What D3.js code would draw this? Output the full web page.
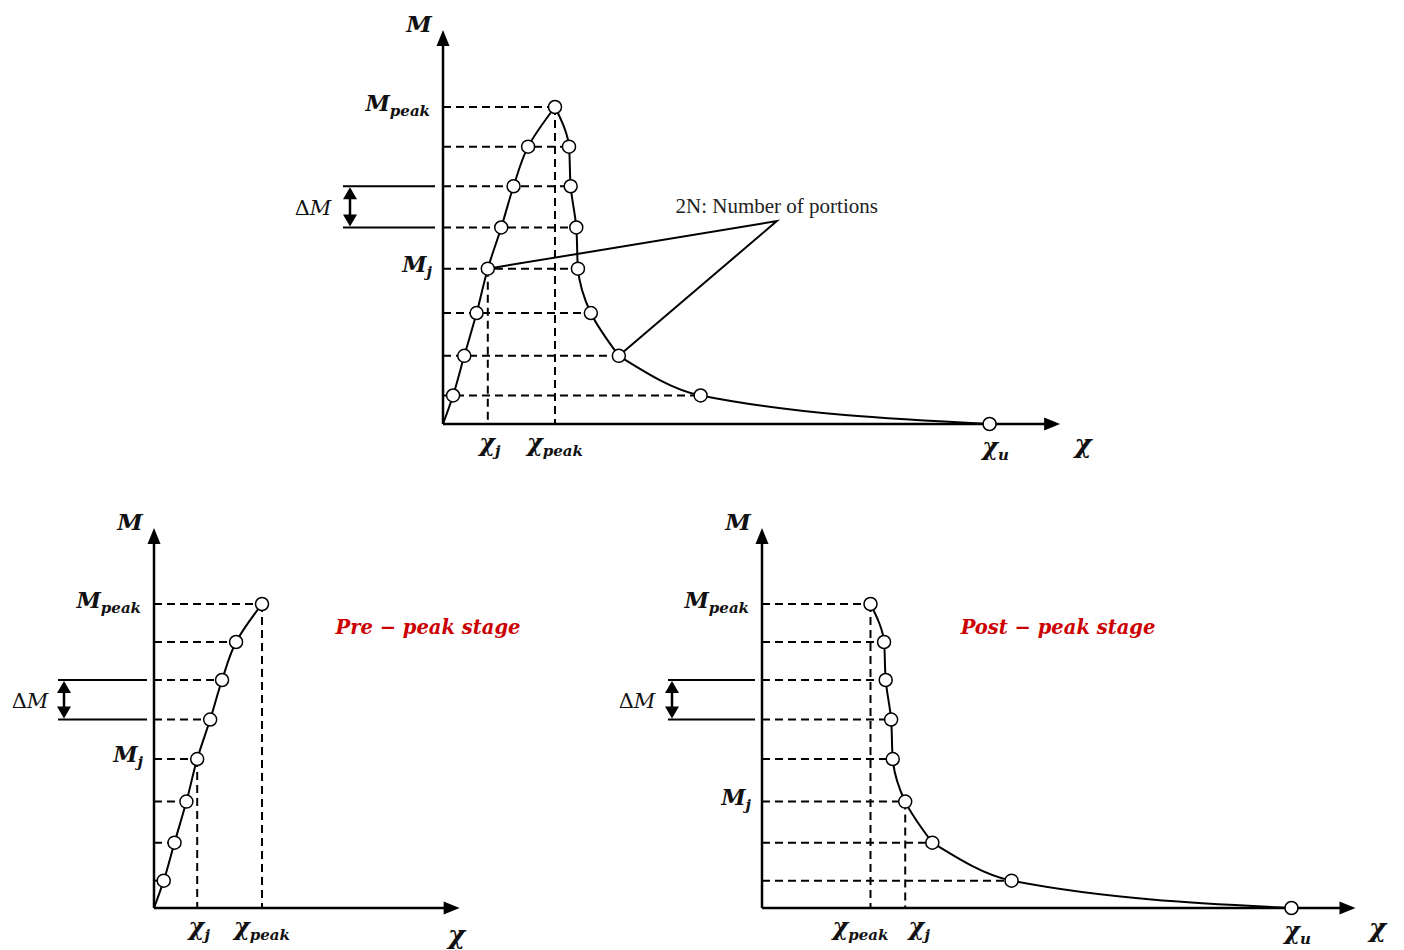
<!DOCTYPE html>
<html>
<head>
<meta charset="utf-8">
<script src="https://cdn.jsdelivr.net/npm/d3@7/dist/d3.min.js"></script>
<style>
  html, body { margin: 0; padding: 0; background: #fff; }
  svg { display: block; }
  .math { font-family: "DejaVu Serif", "Liberation Serif", serif; font-style: italic; font-weight: bold; fill: #111; }
  .note { font-family: "Liberation Serif", "DejaVu Serif", serif; fill: #222; }
  .stage { font-family: "DejaVu Serif", "Liberation Serif", serif; font-style: italic; font-weight: bold; fill: #cc0000; }
</style>
</head>
<body>
<svg id="chart" width="1404" height="950"></svg>
<script>
// Moment levels of the 2N portions, as a fraction of the peak moment
const momentLevels = [0.09, 0.215, 0.35, 0.49, 0.62, 0.75, 0.875, 1.0];
// Curvature on the ascending branch at each moment level (χ / χpeak)
const chiPre = [0.09, 0.19, 0.30, 0.40, 0.52, 0.63, 0.76, 1.0];
// Curvature on the descending branch at each moment level (χ / χpeak)
const chiPost = [2.30, 1.57, 1.32, 1.205, 1.19, 1.14, 1.125, 1.0];
// Ultimate curvature, where the moment has dropped to zero
const chiUltimate = 4.88;
// Apex of the "2N" call-out, in curvature / moment units
const noteApex = { chi: 2.98, m: 0.64 };

const svg = d3.select("#chart");

// Panel layout: origin in pixels, pixels per unit, axis extents
const panels = [
  { id: "full", ox: 443, oy: 424, kx: 112, ky: 317, xMax: 5.51, yMax: 1.243,
    pre: true, post: true, jLevel: 3, jBranch: "pre", dm: [4, 5],
    dmLine: [343, 435], dmArrowX: 350, dmLabelX: 313, chiDx: 23, chiDy: 29 },
  { id: "pre", ox: 154, oy: 908, kx: 108, ky: 304, xMax: 2.83, yMax: 1.25,
    pre: true, post: false, jLevel: 3, jBranch: "pre", dm: [4, 5],
    dmLine: [58, 147], dmArrowX: 64, dmLabelX: 30, chiDx: -3, chiDy: 36,
    stage: "Pre − peak stage", stageX: 428 },
  { id: "post", ox: 762, oy: 908, kx: 108.5, ky: 304, xMax: 5.47, yMax: 1.25,
    pre: false, post: true, jLevel: 2, jBranch: "post", dm: [4, 5],
    dmLine: [668, 755], dmArrowX: 672, dmLabelX: 637, chiDx: 22, chiDy: 29,
    stage: "Post − peak stage", stageX: 1058 }
];

function mathLabel(g, x, y, main, sub, opts = {}) {
  const size = opts.size || 22;
  const t = g.append("text").attr("class", "math")
    .attr("x", x).attr("y", y)
    .attr("text-anchor", opts.anchor || "middle")
    .style("font-size", size + "px");
  t.append("tspan").text(main);
  if (sub) {
    t.append("tspan").attr("dy", opts.subDy || 5)
      .style("font-size", (opts.subSize || 15) + "px").text(sub);
  }
  return t;
}

function triangle(g, tipX, tipY, dir, len, half) {
  let pts;
  if (dir === "up") pts = [[tipX, tipY], [tipX - half, tipY + len], [tipX + half, tipY + len]];
  else if (dir === "down") pts = [[tipX, tipY], [tipX - half, tipY - len], [tipX + half, tipY - len]];
  else pts = [[tipX, tipY], [tipX - len, tipY - half], [tipX - len, tipY + half]];
  g.append("path").attr("d", d3.line()(pts) + "Z").attr("fill", "#000");
}

panels.forEach(p => {
  const g = svg.append("g").attr("class", "panel-" + p.id);
  const x = d3.scaleLinear().domain([0, p.xMax]).range([p.ox, p.ox + p.kx * p.xMax]);
  const y = d3.scaleLinear().domain([0, p.yMax]).range([p.oy, p.oy - p.ky * p.yMax]);

  const prePts = momentLevels.map((m, i) => ({ chi: chiPre[i], m }));
  const postPts = momentLevels.map((m, i) => ({ chi: chiPost[i], m }));
  const peak = { chi: chiPre[7], m: momentLevels[7] };

  const dashStyle = sel => sel.attr("stroke", "#000").attr("stroke-width", 2)
    .attr("stroke-dasharray", "8,5").attr("fill", "none");

  // Horizontal guides at each moment level, out to the farthest point on that level
  momentLevels.forEach((m, i) => {
    const reach = p.post ? chiPost[i] : chiPre[i];
    g.append("line")
      .attr("x1", x(0)).attr("x2", x(reach))
      .attr("y1", y(m)).attr("y2", y(m))
      .call(dashStyle);
  });

  // Vertical guides at χj and χpeak
  const jPt = p.jBranch === "pre" ? prePts[p.jLevel] : postPts[p.jLevel];
  [jPt, peak].forEach(pt => {
    g.append("line")
      .attr("x1", x(pt.chi)).attr("x2", x(pt.chi))
      .attr("y1", y(pt.m)).attr("y2", y(0))
      .call(dashStyle);
  });

  // Axes with arrowheads
  g.append("line").attr("x1", x(0)).attr("x2", x(0))
    .attr("y1", y(0)).attr("y2", y(p.yMax) + 10)
    .attr("stroke", "#000").attr("stroke-width", 2.5);
  triangle(g, x(0), y(p.yMax), "up", 16, 6.5);
  g.append("line").attr("x1", x(0)).attr("x2", x(p.xMax) - 10)
    .attr("y1", y(0)).attr("y2", y(0))
    .attr("stroke", "#000").attr("stroke-width", 2.5);
  triangle(g, x(p.xMax), y(0), "right", 16, 6.5);

  // Moment–curvature curve: χ as a monotone function of M near the peak,
  // M as a monotone function of χ along the softening tail
  const curveY = d3.line().x(d => x(d.chi)).y(d => y(d.m)).curve(d3.curveMonotoneY);
  const curveX = d3.line().x(d => x(d.chi)).y(d => y(d.m)).curve(d3.curveMonotoneX);
  const stroke = sel => sel.attr("fill", "none").attr("stroke", "#000").attr("stroke-width", 2);
  if (p.pre) {
    const branch = [...prePts].reverse().concat([{ chi: 0, m: 0 }]);
    g.append("path").attr("d", curveY(branch)).call(stroke);
  }
  if (p.post) {
    const head = [...postPts].reverse().slice(0, 7);
    g.append("path").attr("d", curveY(head)).call(stroke);
    const tail = [postPts[1], postPts[0], { chi: chiUltimate, m: 0 }];
    g.append("path").attr("d", curveX(tail)).call(stroke);
  }

  // "2N: Number of portions" call-out
  if (p.pre && p.post) {
    const a = prePts[p.jLevel], b = postPts[1];
    g.append("path")
      .attr("d", d3.line()([[x(a.chi), y(a.m)], [x(noteApex.chi), y(noteApex.m)], [x(b.chi), y(b.m)]]))
      .attr("fill", "none").attr("stroke", "#000").attr("stroke-width", 2);
    g.append("text").attr("class", "note")
      .attr("x", x(noteApex.chi)).attr("y", y(noteApex.m) - 8)
      .attr("text-anchor", "middle").style("font-size", "21px")
      .text("2N: Number of portions");
  }

  // Division points
  const pts = [];
  if (p.pre) pts.push(...prePts);
  if (p.post) pts.push(...postPts.slice(0, 7), { chi: chiUltimate, m: 0 });
  if (!p.pre) pts.push(peak);
  g.selectAll("circle.pt").data(pts).join("circle").attr("class", "pt")
    .attr("cx", d => x(d.chi)).attr("cy", d => y(d.m)).attr("r", 6.5)
    .attr("fill", "#fff").attr("stroke", "#000").attr("stroke-width", 1.5);

  // ΔM bracket
  const [lo, hi] = p.dm;
  [lo, hi].forEach(i => {
    g.append("line").attr("x1", p.dmLine[0]).attr("x2", p.dmLine[1])
      .attr("y1", y(momentLevels[i])).attr("y2", y(momentLevels[i]))
      .attr("stroke", "#000").attr("stroke-width", 2);
  });
  const yTop = y(momentLevels[hi]), yBot = y(momentLevels[lo]);
  g.append("line").attr("x1", p.dmArrowX).attr("x2", p.dmArrowX)
    .attr("y1", yTop + 8).attr("y2", yBot - 8)
    .attr("stroke", "#000").attr("stroke-width", 2.5);
  triangle(g, p.dmArrowX, yTop + 1, "up", 12, 7);
  triangle(g, p.dmArrowX, yBot - 1, "down", 12, 7);
  const dmText = g.append("text").attr("class", "math")
    .attr("x", p.dmLabelX).attr("y", (yTop + yBot) / 2 + 8)
    .attr("text-anchor", "middle").style("font-size", "21px")
    .style("font-weight", "normal");
  dmText.append("tspan").style("font-style", "normal").text("Δ");
  dmText.append("tspan").text("M");

  // Axis labels
  mathLabel(g, x(0) - 24, y(p.yMax) + 2, "M", null, { size: 23 });
  mathLabel(g, x(0) - 13, y(peak.m) + 4, "M", "peak", { anchor: "end", size: 22 });
  mathLabel(g, x(0) - 11, y(jPt.m) + 3, "M", "j", { anchor: "end", size: 22 });
  mathLabel(g, x(p.xMax) + p.chiDx, y(0) + p.chiDy, "χ", null, { size: 26 });

  const chiY = y(0) + 27;
  if (p.id === "post") {
    mathLabel(g, x(peak.chi) - 10, chiY, "χ", "peak", { size: 24 });
    mathLabel(g, x(jPt.chi) + 14, chiY, "χ", "j", { size: 24 });
  } else {
    mathLabel(g, x(jPt.chi) + 2, chiY, "χ", "j", { size: 24 });
    mathLabel(g, x(peak.chi), chiY, "χ", "peak", { size: 24 });
  }
  if (p.post) mathLabel(g, x(chiUltimate) + 6, y(0) + 31, "χ", "u", { size: 24 });

  if (p.stage) {
    g.append("text").attr("class", "stage")
      .attr("x", p.stageX).attr("y", y(peak.m) + 30)
      .attr("text-anchor", "middle").style("font-size", "19.5px")
      .text(p.stage);
  }
});
</script>
</body>
</html>
